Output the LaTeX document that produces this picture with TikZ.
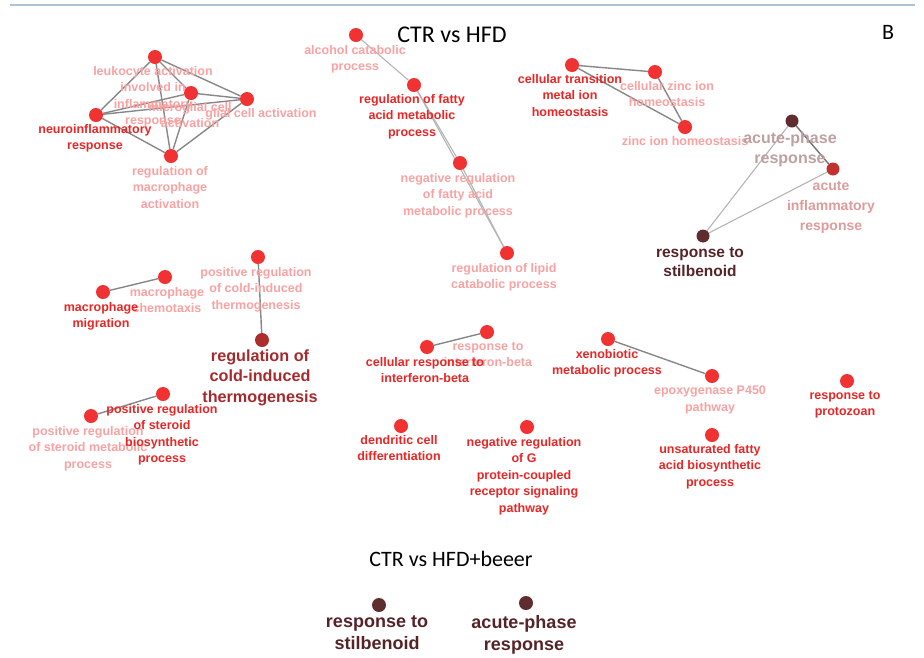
\documentclass[tikz,border=0pt]{standalone}
\usepackage{fontspec}
\setmainfont{Liberation Sans}
\newfontfamily\calfont{Carlito}
\usetikzlibrary{backgrounds}
\definecolor{cRed}{RGB}{240,50,50}
\definecolor{cBold}{RGB}{232,38,38}
\definecolor{cPale}{RGB}{248,162,162}
\definecolor{cEdge}{RGB}{135,135,135}
\definecolor{cEdgeL}{RGB}{180,180,180}
\definecolor{cBrown}{RGB}{95,45,45}
\definecolor{cAcInf}{RGB}{192,50,50}
\definecolor{cCold}{RGB}{172,45,45}
\definecolor{cColdT}{RGB}{165,42,45}
\definecolor{cStilT}{RGB}{85,35,40}
\definecolor{cAcpT}{RGB}{190,160,160}
\definecolor{cAcInfT}{RGB}{222,155,155}
\definecolor{cTop}{RGB}{175,195,215}
\tikzset{
  dot/.style={circle, fill=cRed, inner sep=0pt, minimum size=14pt},
  lb/.style={anchor=north, align=center, inner sep=0pt, font=\bfseries\fontsize{12.5}{16.5}\selectfont},
  pale/.style={lb, text=cPale},
  strong/.style={lb, text=cBold},
  ed/.style={draw=cEdge, line width=1.4pt},
  edl/.style={draw=cEdgeL, line width=1.1pt},
  ttl/.style={font=\calfont\fontsize{22}{26}\selectfont, inner sep=0pt},
}
\begin{document}
\begin{tikzpicture}[x=1pt,y=-1pt]
\useasboundingbox (0,0) rectangle (924,657);
\draw[cTop, line width=1.2pt] (10,5) coordinate (tl1) -- (915,5) coordinate (tl2);

\node[ttl, font=\calfont\fontsize{24}{28}\selectfont] (t1) at (452,35) {CTR vs HFD};
\node[ttl] (t2) at (451,559) {CTR vs HFD+beeer};
\node[ttl] (tB) at (888,32) {B};

% cluster 1
\node[dot] (leuk) at (155,57) {};
\node[dot] (micro) at (191,93) {};
\node[dot] (glial) at (247,99) {};
\node[dot] (neuro) at (96,115) {};
\node[dot] (macact) at (171,156) {};
% cluster 2
\node[dot] (alc) at (356,35) {};
\node[dot] (regfa) at (414,85) {};
\node[dot] (negfa) at (460,163) {};
\node[dot] (lipid) at (507,253) {};
% cluster 3
\node[dot] (ctm) at (572,65) {};
\node[dot] (czn) at (655,72) {};
\node[dot] (zn) at (685,127) {};
% cluster 4
\node[dot, fill=cBrown, minimum size=13pt] (acp) at (792,121) {};
\node[dot, fill=cAcInf, minimum size=13pt] (acinf) at (833,169) {};
\node[dot, fill=cBrown, minimum size=13pt] (stil) at (703,236) {};
% others
\node[dot] (mmig) at (103,292) {};
\node[dot] (mchem) at (165,277) {};
\node[dot] (pcold) at (258,257) {};
\node[dot, fill=cCold] (cold) at (262,340) {};
\node[dot] (psteroid) at (163,394) {};
\node[dot] (psmeta) at (91,416) {};
\node[dot] (crib) at (427,347) {};
\node[dot] (rib) at (487,332) {};
\node[dot] (dend) at (401,426) {};
\node[dot] (gpcr) at (527,427) {};
\node[dot] (xeno) at (608,339) {};
\node[dot] (epox) at (712,376) {};
\node[dot] (unsat) at (712,435) {};
\node[dot] (proto) at (847,381) {};
% bottom
\node[dot, fill=cBrown] (bstil) at (379,605) {};
\node[dot, fill=cBrown] (bacp) at (526,603) {};

\begin{pgfonlayer}{background}
\draw[ed] (leuk) -- (micro);
\draw[ed] (leuk) -- (glial);
\draw[ed] (leuk) -- (neuro);
\draw[ed] (leuk) -- (macact);
\draw[ed] (micro) -- (glial);
\draw[ed] (micro) -- (neuro);
\draw[ed] (micro) -- (macact);
\draw[ed] (glial) -- (neuro);
\draw[ed] (glial) -- (macact);
\draw[ed] (neuro) -- (macact);
\draw[edl] (alc) -- (regfa);
\draw[edl] (regfa) -- (negfa);
\draw[edl] (regfa) -- (lipid);
\draw[edl] (negfa) -- (lipid);
\draw[ed] (ctm) -- (czn);
\draw[ed] (ctm) -- (zn);
\draw[ed] (czn) -- (zn);
\draw[ed, draw=cEdge!85!black] (acp) -- (acinf);
\draw[edl] (acp) -- (stil);
\draw[edl] (acinf) -- (stil);
\draw[ed] (mmig) -- (mchem);
\draw[ed] (pcold) -- (cold);
\draw[ed] (psteroid) -- (psmeta);
\draw[ed] (crib) -- (rib);
\draw[ed] (xeno) -- (epox);
\end{pgfonlayer}

% labels
\node[pale] (leukL) at (153,66) {leukocyte activation\\involved in\\inflammatory\\response};
\node[pale] (microL) at (190,102) {microglial cell\\activation};
\node[pale] (glialL) at (261,108) {glial cell activation};
\node[strong] (neuroL) at (95,124) {neuroinflammatory\\response};
\node[pale] (macactL) at (170,166) {regulation of\\macrophage\\activation};
\node[pale] (alcL) at (355,45) {alcohol catabolic\\process};
\node[strong] (regfaL) at (412,94) {regulation of fatty\\acid metabolic\\process};
\node[pale] (negfaL) at (458,173) {negative regulation\\of fatty acid\\metabolic process};
\node[pale] (lipidL) at (504,263) {regulation of lipid\\catabolic process};
\node[pale] (cznL) at (667,81) {cellular zinc ion\\homeostasis};
\node[strong] (ctmL) at (570,74) {cellular transition\\metal ion\\homeostasis};
\node[pale] (znL) at (685,136) {zinc ion homeostasis};
\node[lb, text=cAcpT, font=\bfseries\fontsize{16}{20}\selectfont] (acpL) at (790,131.5) {acute-phase\\response};
\node[lb, text=cAcInfT, font=\bfseries\fontsize{14}{20}\selectfont] (acinfL) at (831,181.5) {acute\\inflammatory\\response};
\node[lb, text=cStilT, font=\bfseries\fontsize{15.5}{19}\selectfont] (stilL) at (700,247) {response to\\stilbenoid};
\node[pale] (mchemL) at (167,287) {macrophage\\chemotaxis};
\node[strong] (mmigL) at (101,302) {macrophage\\migration};
\node[pale] (pcoldL) at (256,267) {positive regulation\\of cold-induced\\thermogenesis};
\node[lb, text=cColdT, font=\bfseries\fontsize{16.2}{20.5}\selectfont] (coldL) at (260,349.5) {regulation of\\cold-induced\\thermogenesis};
\node[pale] (psmetaL) at (88,426) {positive regulation\\of steroid metabolic\\process};
\node[strong] (psteroidL) at (162,404) {positive regulation\\of steroid\\biosynthetic\\process};
\node[pale] (ribL) at (488,342) {response to\\interferon-beta};
\node[strong] (cribL) at (425,357) {cellular response to\\interferon-beta};
\node[strong] (dendL) at (399,435) {dendritic cell\\differentiation};
\node[strong] (gpcrL) at (524,437) {negative regulation\\of G\\protein-coupled\\receptor signaling\\pathway};
\node[strong] (xenoL) at (607,349) {xenobiotic\\metabolic process};
\node[pale] (epoxL) at (710,386) {epoxygenase P450\\pathway};
\node[strong] (unsatL) at (710,444) {unsaturated fatty\\acid biosynthetic\\process};
\node[strong] (protoL) at (845,391) {response to\\protozoan};
\node[lb, text=cStilT, font=\bfseries\fontsize{18}{22}\selectfont] (bstilL) at (377,615.5) {response to\\stilbenoid};
\node[lb, text=cStilT, font=\bfseries\fontsize{18}{22}\selectfont] (bacpL) at (524,615.5) {acute-phase\\response};
\end{tikzpicture}
\end{document}
